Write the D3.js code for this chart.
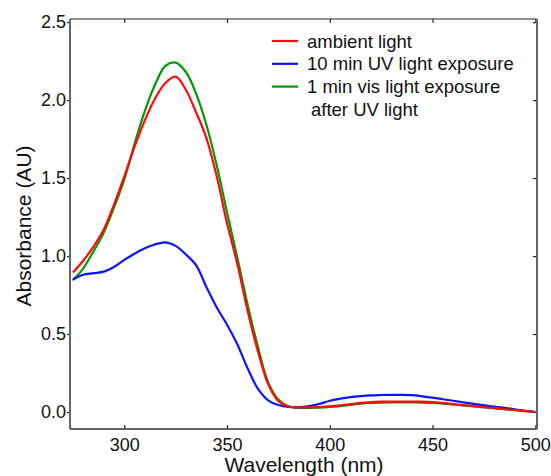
<!DOCTYPE html>
<html>
<head>
<meta charset="utf-8">
<script src="https://cdn.jsdelivr.net/npm/d3@7"></script>
<style>
  body { margin: 0; background: #fff; }
  text { font-family: "Liberation Sans", Arial, Helvetica, sans-serif; fill: #111; }
</style>
</head>
<body>
<div id="chart"></div>
<script>
// Data (absorbance vs wavelength)
var wavelengths = [275, 280, 285, 290, 295, 300, 305, 310, 315, 320, 325, 330, 335, 340, 345,
  350, 355, 360, 365, 370, 375, 380, 385, 390, 395, 400, 405, 410, 415, 420, 425, 430, 435,
  440, 445, 450, 455, 460, 465, 470, 475, 480, 485, 490, 495, 500];

var ambient = [0.895, 0.97, 1.06, 1.17, 1.33, 1.51, 1.70, 1.87, 2.01, 2.11, 2.15, 2.065, 1.92, 1.755, 1.51,
  1.21, 0.95, 0.65, 0.39, 0.18, 0.07, 0.035, 0.03, 0.03, 0.032, 0.036, 0.042, 0.050, 0.058, 0.063, 0.066, 0.067, 0.067,
  0.067, 0.066, 0.063, 0.058, 0.050, 0.044, 0.038, 0.031, 0.025, 0.019, 0.013, 0.007, 0.0];

var uvExposure = [0.85, 0.88, 0.89, 0.90, 0.93, 0.975, 1.015, 1.05, 1.075, 1.088, 1.065, 1.01, 0.94, 0.80, 0.67,
  0.56, 0.435, 0.28, 0.15, 0.075, 0.045, 0.032, 0.030, 0.038, 0.052, 0.072, 0.085, 0.095, 0.102, 0.107, 0.109, 0.110, 0.110,
  0.108, 0.100, 0.092, 0.082, 0.072, 0.062, 0.052, 0.042, 0.034, 0.026, 0.017, 0.008, 0.0];

var visExposure = [0.845, 0.92, 1.03, 1.15, 1.31, 1.49, 1.72, 1.93, 2.10, 2.22, 2.24, 2.18, 2.04, 1.84, 1.58,
  1.28, 0.99, 0.69, 0.42, 0.19, 0.08, 0.035, 0.028, 0.027, 0.028, 0.032, 0.038, 0.046, 0.053, 0.058, 0.060, 0.061, 0.061,
  0.061, 0.060, 0.058, 0.054, 0.048, 0.042, 0.036, 0.030, 0.024, 0.018, 0.012, 0.006, 0.0];

var xTicks = [300, 350, 400, 450, 500];
var yTicks = [0.0, 0.5, 1.0, 1.5, 2.0, 2.5];

var seriesNames = ["ambient light", "10 min UV light exposure", "1 min vis light exposure"];
var legendExtra = "after UV light";

// Setup the chart
var svgWidth = 551;
var svgHeight = 476;

var margin = { top: 19, right: 14, bottom: 47, left: 70 };
var width = svgWidth - margin.left - margin.right;
var height = svgHeight - margin.top - margin.bottom;

var svg = d3.select("#chart")
  .append("svg")
  .attr("width", svgWidth)
  .attr("height", svgHeight);

var chartGroup = svg.append("g")
  .attr("transform", `translate(${margin.left}, ${margin.top})`);

// Scales
var xScale = d3.scaleLinear()
  .domain([273.6, 500.8])
  .range([0, width]);

var yScale = d3.scaleLinear()
  .domain([-0.109, 2.52])
  .range([height, 0]);

// Axes (ticks inward except left)
var fmt = d3.format(".1f");

chartGroup.append("g")
  .attr("class", "axis")
  .attr("transform", `translate(0, ${height})`)
  .call(d3.axisBottom(xScale).tickValues(xTicks).tickSizeInner(-4).tickSizeOuter(0).tickPadding(9));

chartGroup.append("g")
  .attr("class", "axis")
  .call(d3.axisTop(xScale).tickValues(xTicks).tickSizeInner(-4).tickSizeOuter(0).tickFormat(""));

chartGroup.append("g")
  .attr("class", "axis")
  .call(d3.axisLeft(yScale).tickValues(yTicks).tickFormat(fmt).tickSizeInner(3).tickSizeOuter(0).tickPadding(1));

chartGroup.append("g")
  .attr("class", "axis")
  .attr("transform", `translate(${width}, 0)`)
  .call(d3.axisRight(yScale).tickValues(yTicks).tickSizeInner(-4).tickSizeOuter(0).tickFormat(""));

chartGroup.selectAll(".axis .domain").remove();
chartGroup.selectAll(".axis line").attr("stroke", "#222").attr("stroke-width", 1.2);
chartGroup.selectAll(".axis text")
  .style("font-size", "18px")
  .style("font-family", "Liberation Sans, Arial, sans-serif")
  .attr("fill", "#111");

// Frame
chartGroup.append("line").attr("x1", 0).attr("x2", width).attr("y1", 0).attr("y2", 0)
  .attr("stroke", "#222").attr("stroke-width", 1.2);
chartGroup.append("line").attr("x1", 0).attr("x2", width).attr("y1", height).attr("y2", height)
  .attr("stroke", "#333").attr("stroke-width", 1.5);
chartGroup.append("line").attr("x1", 0).attr("x2", 0).attr("y1", 0).attr("y2", height)
  .attr("stroke", "#666").attr("stroke-width", 2);
chartGroup.append("line").attr("x1", width).attr("x2", width).attr("y1", 0).attr("y2", height)
  .attr("stroke", "#666").attr("stroke-width", 2);

// Lines
var series = [
  { name: seriesNames[2], values: visExposure, color: "#009a00" },
  { name: seriesNames[1], values: uvExposure, color: "#0a14ff" },
  { name: seriesNames[0], values: ambient, color: "#ff0a0a" }
];

var line = d3.line()
  .x((d, i) => xScale(wavelengths[i]))
  .y(d => yScale(d))
  .curve(d3.curveCatmullRom);

chartGroup.selectAll(".spectrum")
  .data(series)
  .enter()
  .append("path")
  .attr("class", "spectrum")
  .attr("d", d => line(d.values))
  .attr("fill", "none")
  .attr("stroke", d => d.color)
  .attr("stroke-width", 2.2)
  .attr("stroke-linejoin", "round");

// Legend
var legendItems = [
  { name: seriesNames[0], color: "#ff0a0a" },
  { name: seriesNames[1], color: "#0a14ff" },
  { name: seriesNames[2], color: "#009a00" }
];
var legend = svg.append("g").attr("transform", "translate(272, 41)");
legendItems.forEach(function(d, i) {
  var row = legend.append("g").attr("transform", `translate(0, ${i * 22.8})`);
  row.append("line").attr("x1", 0).attr("x2", 26).attr("y1", 0).attr("y2", 0)
    .attr("stroke", d.color).attr("stroke-width", 2.2);
  row.append("text").attr("x", 35).attr("y", 6.5)
    .style("font-size", "18.5px").text(d.name);
});
legend.append("text").attr("x", 39).attr("y", 3 * 22.8 + 6.5)
  .style("font-size", "18.5px").text(legendExtra);

// Axis labels
svg.append("text")
  .attr("transform", `translate(31, 226) rotate(-90)`)
  .attr("text-anchor", "middle")
  .style("font-size", "21px")
  .text("Absorbance (AU)");

svg.append("text")
  .attr("x", 304)
  .attr("y", 472)
  .attr("text-anchor", "middle")
  .style("font-size", "21px")
  .text("Wavelength (nm)");
</script>
</body>
</html>
